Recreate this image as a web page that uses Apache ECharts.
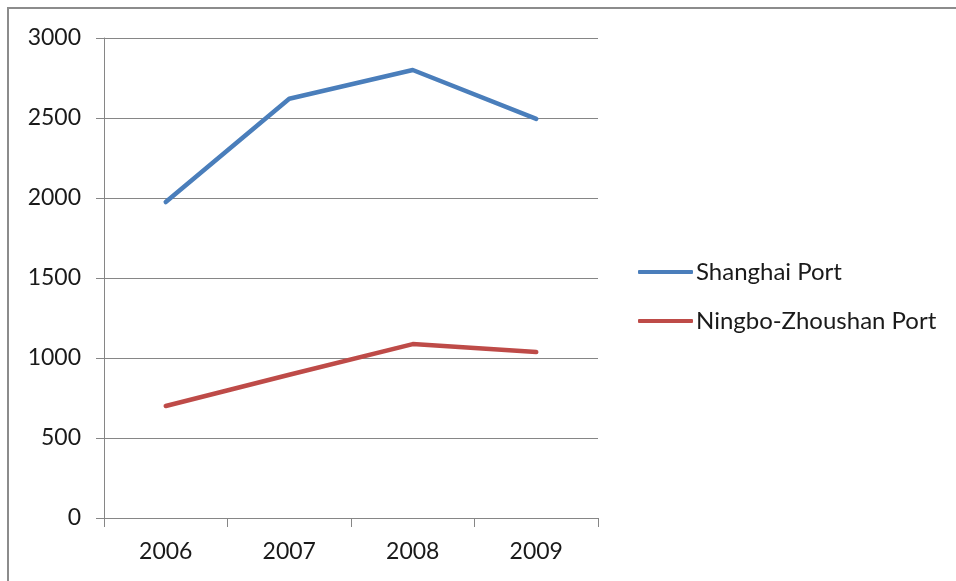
<!DOCTYPE html>
<html>
<head>
<meta charset="utf-8">
<script src="https://cdn.jsdelivr.net/npm/echarts@6/dist/echarts.min.js"></script>
<style>
  html, body { margin: 0; padding: 0; background: #fff; }
  #chart { width: 956px; height: 581px; }
</style>
</head>
<body>
<div id="chart"></div>
<script>
// data
const years = ['2006', '2007', '2008', '2009']
const shanghai = [1975, 2620, 2800, 2494]
const ningbo = [700, 895, 1087, 1037]
const yTicks = [0, 500, 1000, 1500, 2000, 2500, 3000]

const font = 'Lato'
const gray = '#868686'

const chart = echarts.init(document.getElementById('chart'))
chart.setOption({
  backgroundColor: '#fff',
  animation: false,
  // outer frame, cut off at right / bottom like the screenshot
  graphic: [{
    type: 'rect',
    shape: { x: 8, y: 8, width: 1000, height: 1000 },
    style: { fill: 'none', stroke: '#8c8c8c', lineWidth: 2 }
  }],
  grid: { left: 104, right: 358, top: 38, bottom: 63 },
  legend: {
    orient: 'vertical',
    left: 638,
    top: 257,
    padding: 0,
    itemWidth: 55,
    itemHeight: 4,
    itemGap: 19,
    icon: 'roundRect',
    textStyle: { fontFamily: font, fontSize: 24, color: '#1a1a1a', lineHeight: 30, padding: [0, 0, 0, -2] },
    data: ['Shanghai Port', 'Ningbo-Zhoushan Port']
  },
  xAxis: {
    type: 'category',
    data: years,
    boundaryGap: true,
    axisLine: { lineStyle: { color: gray, width: 1 } },
    axisTick: { show: true, length: 9, lineStyle: { color: gray } },
    axisLabel: { fontFamily: font, fontSize: 23, color: '#1a1a1a', margin: 22 },
    splitLine: { show: false }
  },
  yAxis: {
    type: 'value',
    min: yTicks[0],
    max: yTicks[yTicks.length - 1],
    interval: 500,
    axisLine: { show: true, lineStyle: { color: gray, width: 1 } },
    axisTick: { show: true, length: 8, lineStyle: { color: gray } },
    axisLabel: { fontFamily: font, fontSize: 23, color: '#1a1a1a', margin: 23, formatter: v => String(v) },
    splitLine: { show: true, lineStyle: { color: gray, width: 1 } }
  },
  series: [
    {
      name: 'Shanghai Port',
      type: 'line',
      data: shanghai,
      symbol: 'none',
      color: '#4a7ebb',
      lineStyle: { width: 4.5, cap: 'round', join: 'round' }
    },
    {
      name: 'Ningbo-Zhoushan Port',
      type: 'line',
      data: ningbo,
      symbol: 'none',
      color: '#be4b48',
      lineStyle: { width: 4.5, cap: 'round', join: 'round' }
    }
  ]
})
</script>
</body>
</html>
